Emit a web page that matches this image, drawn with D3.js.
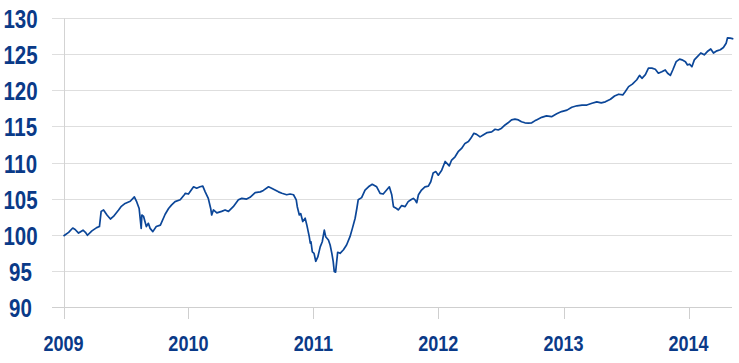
<!DOCTYPE html>
<html>
<head>
<meta charset="utf-8">
<script src="https://cdnjs.cloudflare.com/ajax/libs/d3/7.8.5/d3.min.js"></script>
<style>
  body { margin: 0; background: #fff; }
  svg { display: block; }
  .lbl { font-family: "Liberation Sans", Arial, sans-serif; font-weight: bold; fill: #0a3a88; }
</style>
</head>
<body>
<div id="chart"></div>
<script>
// decimal year of each point
var yearPos = [
  2009.000, 2009.040, 2009.075, 2009.094, 2009.120, 2009.155, 2009.174, 2009.192, 2009.227, 2009.267,
  2009.288, 2009.302, 2009.320, 2009.347, 2009.374, 2009.400, 2009.440, 2009.459, 2009.494, 2009.534,
  2009.566, 2009.587, 2009.606, 2009.622, 2009.627, 2009.640, 2009.662, 2009.680, 2009.694, 2009.715,
  2009.742, 2009.774, 2009.814, 2009.840, 2009.867, 2009.894, 2009.934, 2009.966, 2009.974, 2010.000,
  2010.040, 2010.067, 2010.094, 2010.115, 2010.134, 2010.160, 2010.179, 2010.187, 2010.200, 2010.227,
  2010.267, 2010.294, 2010.320, 2010.360, 2010.400, 2010.427, 2010.467, 2010.494, 2010.534, 2010.574,
  2010.600, 2010.640, 2010.667, 2010.694, 2010.720, 2010.747, 2010.787, 2010.814, 2010.840, 2010.862,
  2010.872, 2010.888, 2010.899, 2010.915, 2010.934, 2010.947, 2010.966, 2010.974, 2010.982, 2010.992,
  2011.006, 2011.019, 2011.035, 2011.054, 2011.072, 2011.088, 2011.099, 2011.120, 2011.134, 2011.147,
  2011.160, 2011.168, 2011.179, 2011.195, 2011.214, 2011.240, 2011.267, 2011.294, 2011.312, 2011.334,
  2011.347, 2011.360, 2011.387, 2011.414, 2011.440, 2011.472, 2011.507, 2011.534, 2011.560, 2011.587,
  2011.608, 2011.627, 2011.640, 2011.667, 2011.680, 2011.707, 2011.734, 2011.760, 2011.782, 2011.800,
  2011.814, 2011.827, 2011.840, 2011.867, 2011.894, 2011.920, 2011.939, 2011.960, 2011.982, 2012.000,
  2012.027, 2012.054, 2012.072, 2012.088, 2012.107, 2012.134, 2012.160, 2012.187, 2012.214, 2012.240,
  2012.259, 2012.286, 2012.307, 2012.334, 2012.360, 2012.392, 2012.427, 2012.454, 2012.480, 2012.507,
  2012.534, 2012.560, 2012.587, 2012.614, 2012.640, 2012.667, 2012.694, 2012.720, 2012.747, 2012.774,
  2012.787, 2012.827, 2012.867, 2012.907, 2012.947, 2012.987, 2013.027, 2013.067, 2013.107, 2013.147,
  2013.187, 2013.227, 2013.267, 2013.302, 2013.334, 2013.374, 2013.408, 2013.440, 2013.475, 2013.494,
  2013.520, 2013.552, 2013.587, 2013.608, 2013.627, 2013.654, 2013.680, 2013.707, 2013.734, 2013.760,
  2013.787, 2013.814, 2013.832, 2013.854, 2013.875, 2013.902, 2013.928, 2013.947, 2013.974, 2013.992,
  2014.008, 2014.027, 2014.046, 2014.072, 2014.099, 2014.126, 2014.152, 2014.179, 2014.200, 2014.227,
  2014.254, 2014.280, 2014.302, 2014.312, 2014.334, 2014.358
];

// index level (start = 100)
var indexValues = [
  100.0, 100.5, 101.1, 100.9, 100.4, 100.8, 100.5, 100.1, 100.7, 101.15,
  101.3, 103.4, 103.6, 102.9, 102.35, 102.7, 103.6, 104.05, 104.5, 104.8,
  105.4, 104.7, 103.8, 101.05, 102.9, 102.7, 101.3, 101.75, 101.05, 100.6,
  101.3, 101.5, 103.0, 103.8, 104.3, 104.75, 105.0, 105.7, 105.9, 105.8,
  106.8, 106.6, 106.8, 106.9, 106.1, 105.2, 103.8, 102.9, 103.6, 103.2,
  103.4, 103.6, 103.4, 104.05, 105.0, 105.2, 105.1, 105.35, 106.0, 106.1,
  106.3, 106.8, 106.6, 106.35, 106.1, 105.9, 105.7, 105.8, 105.7, 105.0,
  104.05, 102.9, 103.1, 102.0, 102.45, 101.5, 99.9, 99.0, 99.2, 97.8,
  97.6, 96.5, 97.1, 98.5, 99.2, 100.8, 99.9, 99.45, 98.75, 97.6,
  96.45, 95.1, 95.0, 97.75, 97.6, 98.1, 98.75, 99.9, 101.05, 102.45,
  103.8, 105.0, 105.3, 106.35, 106.8, 107.15, 106.8, 105.9, 105.8, 106.35,
  106.8, 105.7, 104.05, 103.8, 103.6, 104.2, 104.05, 104.75, 105.0, 105.2,
  105.0, 104.6, 105.7, 106.35, 106.8, 106.9, 107.5, 108.7, 108.9, 108.4,
  109.1, 110.3, 110.0, 109.7, 110.5, 110.95, 111.65, 112.1, 112.8, 113.05,
  113.5, 114.2, 114.05, 113.7, 113.95, 114.3, 114.4, 114.75, 114.65, 114.9,
  115.35, 115.65, 116.05, 116.15, 116.05, 115.8, 115.65, 115.6, 115.65, 115.95,
  116.05, 116.4, 116.6, 116.5, 116.9, 117.2, 117.4, 117.8, 118.0, 118.1,
  118.1, 118.35, 118.55, 118.4, 118.55, 118.9, 119.35, 119.6, 119.5, 119.95,
  120.65, 121.0, 121.6, 122.2, 121.8, 122.3, 123.2, 123.2, 123.05, 122.5,
  122.7, 122.95, 122.5, 122.2, 122.95, 124.1, 124.45, 124.35, 124.1, 123.65,
  123.75, 123.4, 124.35, 124.8, 125.3, 125.05, 125.5, 125.85, 125.3, 125.6,
  125.75, 126.05, 126.65, 127.4, 127.35, 127.25
];

var yTicks = [90, 95, 100, 105, 110, 115, 120, 125, 130];
var xTickYears = [2009, 2010, 2011, 2012, 2013, 2014];

function toDate(t) {
  var y = Math.floor(t);
  return new Date(y, 0, 1 + Math.round((t - y) * 365));
}

var data = yearPos.map(function(t, i) {
  return { date: toDate(t), value: indexValues[i] };
});

var svgWidth = 739;
var svgHeight = 363;

// labels are condensed, no narrow font here so squeeze them
var squeeze = 0.82;

var svg = d3.select("#chart")
  .append("svg")
  .attr("width", svgWidth)
  .attr("height", svgHeight);

var xScale = d3.scaleTime()
  .domain([new Date(2009, 0, 1), new Date(2014, 0, 1)])
  .range([63.5, 688.5]);

var yScale = d3.scaleLinear()
  .domain([90, 130])
  .range([308.3, 19]);

function snap(v) { return Math.round(v) + 0.5; }

// horizontal gridlines
svg.append("g")
  .selectAll("line")
  .data(yTicks)
  .enter()
  .append("line")
  .attr("x1", 52)
  .attr("x2", 732)
  .attr("y1", d => snap(yScale(d)) - 1)
  .attr("y2", d => snap(yScale(d)) - 1)
  .attr("stroke", d => d === 90 ? "#cfcfcf" : "#dedede")
  .attr("stroke-width", 1);

// y axis line
svg.append("line")
  .attr("x1", snap(xScale(new Date(2009, 0, 1))))
  .attr("x2", snap(xScale(new Date(2009, 0, 1))))
  .attr("y1", snap(yScale(130)) - 1)
  .attr("y2", snap(yScale(90)) - 1)
  .attr("stroke", "#d3d3d3");

// year ticks
svg.append("g")
  .selectAll("line")
  .data(xTickYears)
  .enter()
  .append("line")
  .attr("x1", d => snap(xScale(new Date(d, 0, 1))))
  .attr("x2", d => snap(xScale(new Date(d, 0, 1))))
  .attr("y1", snap(yScale(90)) - 1)
  .attr("y2", 319)
  .attr("stroke", "#cfcfcf");

// y labels
svg.append("g")
  .selectAll("text")
  .data(yTicks)
  .enter()
  .append("text")
  .attr("class", "lbl")
  .attr("transform", d => `translate(20.5, ${yScale(d) + 9}) scale(${squeeze}, 1)`)
  .attr("text-anchor", "middle")
  .attr("font-size", "25px")
  .text(d => d);

// x labels
svg.append("g")
  .selectAll("text")
  .data(xTickYears)
  .enter()
  .append("text")
  .attr("class", "lbl")
  .attr("transform", d => `translate(${xScale(new Date(d, 0, 1))}, 350.5) scale(${squeeze}, 1)`)
  .attr("text-anchor", "middle")
  .attr("font-size", "22px")
  .text(d => d);

var line = d3.line()
  .x(d => xScale(d.date))
  .y(d => yScale(d.value));

svg.append("path")
  .datum(data)
  .attr("d", line)
  .attr("fill", "none")
  .attr("stroke", "#0b4698")
  .attr("stroke-width", 1.7)
  .attr("stroke-linejoin", "round");
</script>
</body>
</html>
